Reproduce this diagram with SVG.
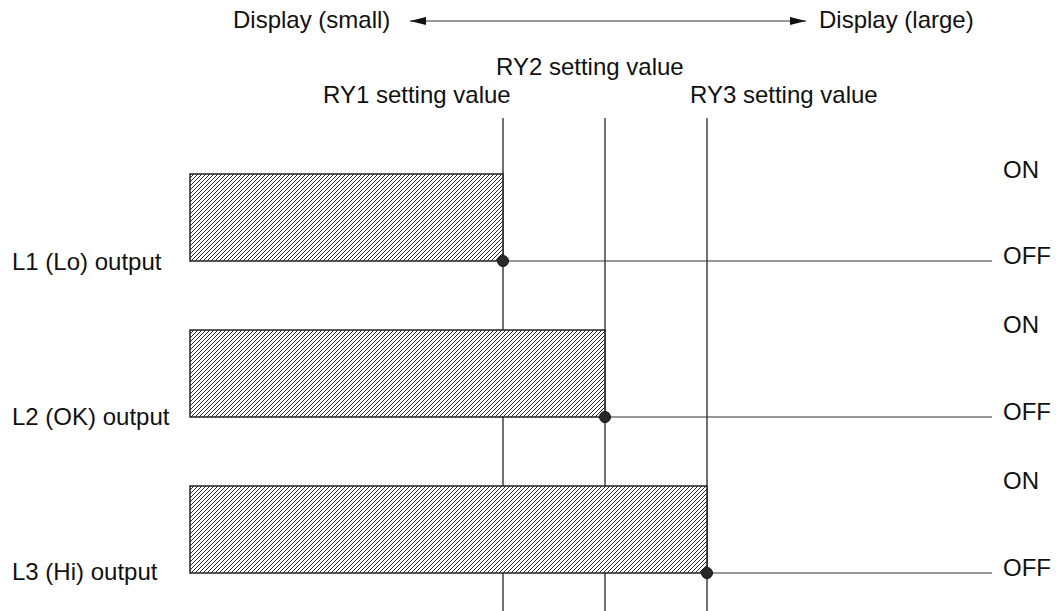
<svg xmlns="http://www.w3.org/2000/svg" width="1056" height="611" viewBox="0 0 1056 611">
<style>
text{font-family:"Liberation Sans",Arial,sans-serif;font-size:24px;fill:#111}
.v{stroke:#111;stroke-width:1.2;fill:none}
.h{stroke:#333;stroke-width:1.2;fill:none}
.bar{fill:url(#hatch);stroke:#222;stroke-width:1.5}
.dot{fill:#2a2a2a;stroke:#111;stroke-width:1}
</style>
<defs>
<pattern id="hatch" patternUnits="userSpaceOnUse" width="4" height="4">
<rect width="4" height="4" fill="#fff"/>
<path d="M-1,1 l2,-2 M0,4 l4,-4 M3,5 l2,-2" stroke="#2a2a2a" stroke-width="1"/>
</pattern>
<marker id="ah" viewBox="0 0 16 8" refX="16" refY="4" markerWidth="16" markerHeight="8" markerUnits="userSpaceOnUse" orient="auto-start-reverse">
<path d="M0,0 L16,4 L0,8 Z" fill="#111"/>
</marker>
</defs>
<rect width="1056" height="611" fill="#fff"/>
<g id="axis">
<text x="233" y="28">Display (small)</text>
<text x="819" y="28">Display (large)</text>
</g>
<g id="connectors">
<line class="h" x1="410" y1="21" x2="806" y2="21" marker-start="url(#ah)" marker-end="url(#ah)"/>
</g>
<g id="ry1"><text x="323" y="103">RY1 setting value</text><line class="v" x1="503" y1="118" x2="503" y2="611"/></g>
<g id="ry2"><text x="496" y="75">RY2 setting value</text><line class="v" x1="605" y1="118" x2="605" y2="611"/></g>
<g id="ry3"><text x="690" y="103">RY3 setting value</text><line class="v" x1="707" y1="118" x2="707" y2="611"/></g>
<g id="l1">
<rect class="bar" x="190" y="174" width="313" height="87"/>
<line class="h" x1="503" y1="261" x2="992" y2="261"/>
<circle class="dot" cx="503" cy="261" r="5.5"/>
<text x="12" y="270">L1 (Lo) output</text>
<text x="1003" y="178">ON</text>
<text x="1003" y="264">OFF</text>
</g>
<g id="l2">
<rect class="bar" x="190" y="330" width="415" height="87"/>
<line class="h" x1="605" y1="417" x2="992" y2="417"/>
<circle class="dot" cx="605" cy="417" r="5.5"/>
<text x="12" y="425">L2 (OK) output</text>
<text x="1003" y="333">ON</text>
<text x="1003" y="420">OFF</text>
</g>
<g id="l3">
<rect class="bar" x="190" y="486" width="517" height="87"/>
<line class="h" x1="707" y1="573" x2="992" y2="573"/>
<circle class="dot" cx="707" cy="573" r="5.5"/>
<text x="12" y="580">L3 (Hi) output</text>
<text x="1003" y="489">ON</text>
<text x="1003" y="576">OFF</text>
</g>
</svg>
